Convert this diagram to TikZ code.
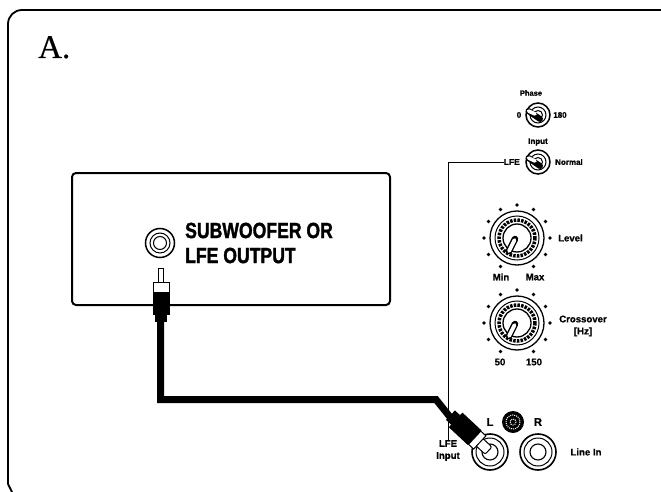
\documentclass[tikz,border=0pt]{standalone}
\usepackage{fontspec}
\setmainfont{Liberation Serif}
\setsansfont{Liberation Sans}
\newfontfamily\heavy[BoldFeatures={FakeBold=0.8}]{Liberation Sans}
\newfontfamily\heavycond[FakeStretch=0.8,BoldFeatures={FakeBold=1.5}]{Liberation Sans}
\newfontfamily\titlefont[FakeBold=0.5]{Liberation Serif}
\tikzset{
  lab/.style={font=\heavy\bfseries\fontsize{8}{9}\selectfont,inner sep=0pt,align=center},
  labl/.style={font=\heavy\bfseries\fontsize{9.6}{12}\selectfont,inner sep=0pt,align=center},
  bigl/.style={font=\heavycond\bfseries\fontsize{22}{25}\selectfont,inner sep=0pt,align=left},
  jack/.style={line width=1.5pt,draw=black,fill=white},
}
\newcommand{\knob}[3]{%
  \foreach \a in {120,150,...,420} {\fill (#1,#2) ++(\a:33) circle (1.9);}
  \draw[line width=1.3pt,fill=white] (#1,#2) circle (#3);
  \draw[line width=1pt] (#1,#2) circle (#3-5);
  \draw[line width=3.5pt,dash pattern=on 2.5pt off 1.2pt] (#1,#2) circle (#3-9);
  \draw[line width=1.3pt,fill=white] (#1,#2) circle (#3-13);
  \draw[line width=6.5pt,line cap=round] (#1-8,#2+13) -- (#1-2,#2+1);
  \draw[white,line width=3.8pt,line cap=round] (#1-8,#2+13) -- (#1-2.5,#2+2);
}
\newcommand{\toggle}[2]{%
  \draw[line width=1.5pt,fill=white] (#1,#2) circle (12);
  \draw[line width=1pt] (#1,#2) circle (8);
  \draw[line width=1pt] (#1,#2) circle (4.5);
  \draw[line width=6pt,line cap=round] (#1-9.5,#2-4) -- (#1+2,#2+4);
  \draw[white,line width=3.6pt,line cap=round] (#1-9.5,#2-4) -- (#1-3,#2-1);
}
\begin{document}
\begin{tikzpicture}[x=1pt,y=-1pt]
\useasboundingbox (0,0) rectangle (661,492);
% frame
\draw[line width=1.8pt,rounded corners=14pt] (8,484) -- (8,10) -- (661,10);
\draw[line width=1.8pt] (8,484) -- (12,492);
\node[font=\titlefont\fontsize{33}{36}\selectfont,inner sep=0pt,anchor=base west] (title) at (38,58) {A.};
% device box
\draw[line width=2pt,rounded corners=4pt] (72,173) rectangle (390,305);
\draw[jack] (160,243) circle (14.5);
\draw[line width=1pt] (160,243) circle (10);
\draw[line width=1pt] (160,243) circle (6.5);
\node[bigl,anchor=west] (out) at (185,243) {SUBWOOFER OR\\LFE OUTPUT};
% plug
\draw[line width=1pt,fill=white] (158,268) rectangle (163,282);
\draw[line width=1pt,fill=white] (153,282) rectangle (169.5,292);
\fill (152.5,292) rectangle (170,315);
\fill (155,315) rectangle (167,322);
% LFE labels and line
\node[lab] (ph) at (531,93) {\fontsize{7.5}{9}\selectfont Phase};
\node[lab] (zero) at (519,115) {0};
\node[lab] (oe) at (560,115) {180};
\toggle{538}{115}
\node[lab] (inp) at (538,142) {Input};
\node[lab,anchor=east] (lfe) at (520,162) {\fontsize{8.5}{9}\selectfont LFE};
\node[lab,anchor=west] (norm) at (555,162) {Normal};
\toggle{538}{162}
\node[labl] (lfein) at (448,450.5) {LFE\\Input};
\draw[line width=.9pt] (lfe.west) -| (lfein.north);
% cable
\coordinate (c1) at (160.5,320);
\coordinate (c2) at (160.5,399.5);
\coordinate (c3) at (436,399.5);
\coordinate (c4) at (458,427);
\draw[line width=7pt,line join=miter] (c1) -- (c2) -- (c3) -- (c4);
% knobs
\knob{517}{238}{27}
\node[labl] (min) at (501,277) {Min};
\node[labl] (max) at (535,277) {Max};
\node[labl,anchor=west] (level) at (558,238) {Level};
\knob{517}{323}{27}
\node[labl] (fif) at (500,362) {50};
\node[labl] (ofif) at (534,362) {150};
\node[labl] (cross) at (583,326) {Crossover\\{[Hz]}};
% jacks
\foreach \x in {490,538} {
  \draw[line width=1.6pt,fill=white] (\x,452) circle (18);
  \draw[line width=1pt] (\x,452) circle (14);
  \draw[line width=1.1pt] (\x,452) circle (8);
}
\fill (513,422) circle (11);
\draw[white,line width=1pt,densely dotted] (513,422) circle (7);
\draw[white,line width=1pt,densely dotted] (513,422) circle (3);
\node[font=\heavy\bfseries\fontsize{11}{12}\selectfont,inner sep=0pt] (ll) at (490,422) {L};
\node[font=\heavy\bfseries\fontsize{11}{12}\selectfont,inner sep=0pt] (rl) at (538,422) {R};
\node[labl] (li) at (586,452) {Line In};
% RCA plug into L
\begin{scope}[shift={(490,452)},rotate=-43]
  \draw[line width=1pt,fill=white,rounded corners=2pt] (-2,-5) rectangle (-17,5);
  \draw[line width=1pt,fill=white] (-14,-9) rectangle (-21,9);
  \fill (-21,-10) rectangle (-47,10);
  \fill (-47,-6.5) rectangle (-54,6.5);
\end{scope}
\end{tikzpicture}
\end{document}
